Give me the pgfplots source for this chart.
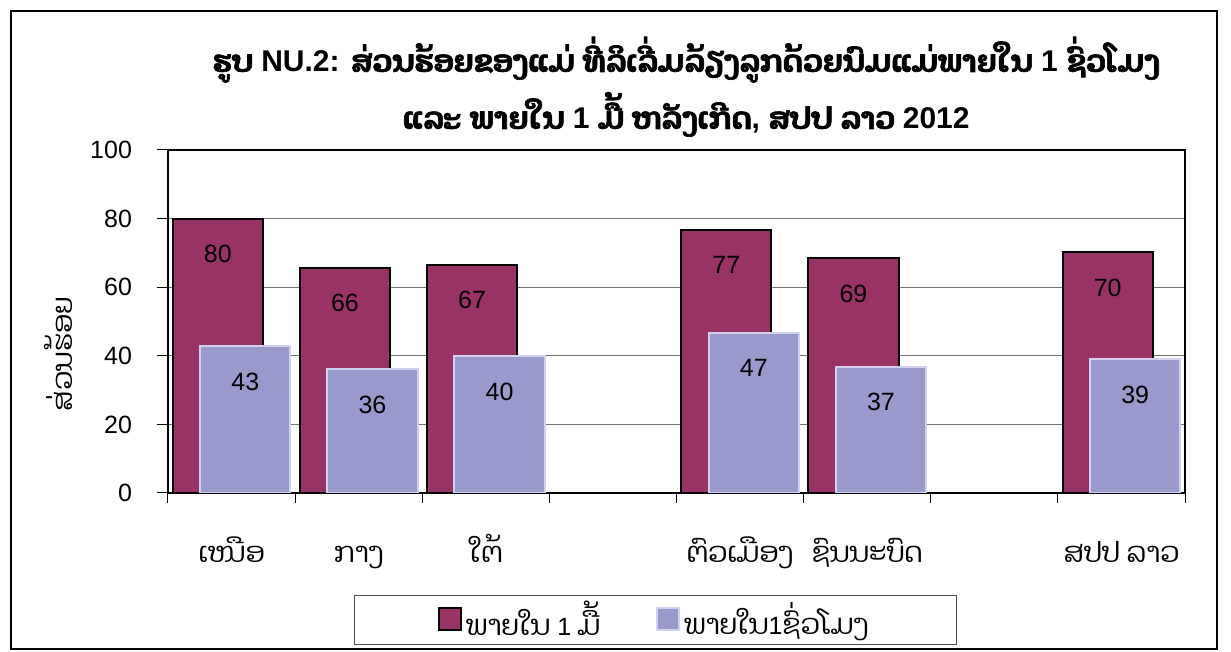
\documentclass[border=0pt]{standalone}
\usepackage{pgfplots}
\pgfplotsset{compat=1.18}
\usepackage{pgfplotstable}
\usepackage{fontspec}
\setmainfont{Liberation Sans}
\newfontfamily\lao[Script=Lao,Scale=1.12]{Dhyana}
\newfontfamily\laob[Script=Lao,Scale=1.02,FakeBold=2]{Dhyana}
\definecolor{plum}{HTML}{993366}
\definecolor{peri}{HTML}{9999CC}
\definecolor{perib}{HTML}{D0D0F0}

\pgfplotstableread{
x y lab
0 79.9 80
1 65.6 66
2 66.5 67
4 76.7 77
5 68.5 69
7 70.2 70
}\redtab
\pgfplotstableread{
x y lab
0 42.8 43
1 36.1 36
2 39.8 40
4 46.7 47
5 36.8 37
7 39.0 39
}\bluetab

\begin{document}
\begin{tikzpicture}
\begin{scope}[x=0.5pt,y=-0.5pt,shift={(-84pt,246.5pt)}]
\useasboundingbox (0,0) rectangle (1231,652);
\draw[line width=1.3pt] (11,11) rectangle (1217,649);
\node[anchor=base, inner sep=0pt, font=\fontsize{15}{17}\selectfont\bfseries] at (686,72)
 {{\laob ຮູບ} NU.2: {\laob ສ່ວນຮ້ອຍຂອງແມ່ ທີ່ລິເລີ່ມລ້ຽງລູກດ້ວຍນົມແມ່ພາຍໃນ} 1 {\laob ຊົ່ວໂມງ}};
\node[anchor=base, inner sep=0pt, font=\fontsize{15}{17}\selectfont\bfseries] at (686,129)
 {{\laob ແລະ ພາຍໃນ} 1 {\laob ມື້ ຫລັງເກີດ}, {\laob ສປປ ລາວ} 2012};
\end{scope}
\begin{axis}[
  at={(0,0)}, anchor=south west, scale only axis,
  width=508.5pt, height=171.5pt,
  xmin=-0.5, xmax=7.5, ymin=0, ymax=100,
  ytick={0,20,...,100},
  ymajorgrids, grid style={draw=black!55, line width=0.5pt},
  axis line style={line width=1pt},
  tick align=outside, xtick pos=bottom, ytick pos=left,
  major tick length=5.5pt, minor tick length=5pt,
  tick style={black, line width=0.5pt},
  xtick={0,...,7},
  major x tick style={draw=none},
  minor xtick={-0.5,0.5,...,7.5},
  xticklabels={{\lao ເໜືອ},{\lao ກາງ},{\lao ໃຕ້},{},{\lao ຕົວເມືອງ},{\lao ຊົນນະບົດ},{},{\lao ສປປ ລາວ}},
  xticklabel style={font=\fontsize{12.5}{15}\selectfont, anchor=base, yshift=-29pt},
  yticklabel style={font=\fontsize{12.5}{15}\selectfont, xshift=-9pt},
  /pgf/number format/assume math mode=true,
  ylabel={\lao ສ່ວນຮ້ອຍ},
  ylabel style={font=\fontsize{12.5}{15}\selectfont, at={(axis description cs:-0.108,0.405)}, anchor=center},
  ybar, bar width=0.71,
  nodes near coords, point meta=explicit symbolic,
  every node near coord/.append style={font=\fontsize{12.5}{15}\selectfont, anchor=center, yshift=-17.7pt, black},
  legend columns=2,
  legend style={at={(0.479,-0.297)}, anchor=north, draw=black!70, line width=0.5pt,
    font=\fontsize{12.5}{15}\selectfont, inner xsep=42pt, inner ysep=0.8pt,
    /tikz/every even column/.append style={column sep=26pt}},
]
\addplot[fill=plum, draw=black, line width=1pt, bar shift=-0.108,
  legend image code/.code={\draw[fill=plum,draw=black,line width=1pt] (0pt,-5pt) rectangle (11pt,6pt);}]
  table[x=x,y=y,meta=lab]{\redtab};
\addlegendentry{{\lao ພາຍໃນ} 1 {\lao ມື້}}
\addplot[fill=peri, draw=perib, line width=1pt, bar shift=0.108,
  legend image code/.code={\draw[fill=peri,draw=perib,line width=1pt] (0pt,-5pt) rectangle (11pt,6pt);}]
  table[x=x,y=y,meta=lab]{\bluetab};
\addlegendentry{{\lao ພາຍໃນ}1{\lao ຊົ່ວໂມງ}}
\end{axis}
\end{tikzpicture}
\end{document}
